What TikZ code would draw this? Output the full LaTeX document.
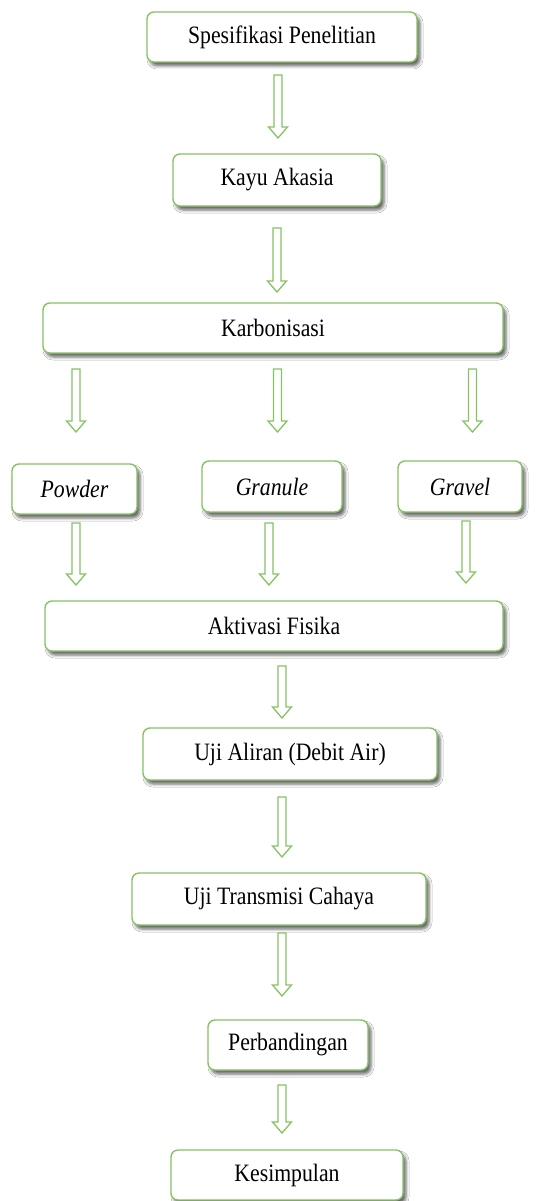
\documentclass[tikz,border=0pt]{standalone}
\usepackage{fontspec}
\setmainfont{Liberation Serif}[FakeStretch=0.87]
\usetikzlibrary{shadows.blur,calc}
\definecolor{boxgreen}{RGB}{135,195,100}
\tikzset{
  flowbox/.style={draw=boxgreen, line width=1.4pt, rounded corners=7pt, fill=white,
    inner sep=0pt, font=\fontsize{25}{28}\selectfont,
    blur shadow={shadow xshift=3pt, shadow yshift=-4pt, shadow blur radius=3pt, shadow opacity=60}},
  blockarrow/.style={draw=boxgreen, line width=1.3pt, fill=white, line join=miter}
}
\newcommand{\barrow}[2]{%
  \draw[blockarrow] let \p1=(#1), \p2=(#2) in
    (\x1-4pt,\y1) -- (\x1+4pt,\y1) -- (\x1+4pt,\y2+11pt) -- (\x1+9.5pt,\y2+11pt)
    -- (\x2,\y2) -- (\x1-9.5pt,\y2+11pt) -- (\x1-4pt,\y2+11pt) -- cycle;}
\begin{document}
\begin{tikzpicture}[x=1pt,y=-1pt]
\useasboundingbox (0,0) rectangle (538,1201);
\fill[white] (0,0) rectangle (538,1201);

\node[flowbox, minimum width=270pt, minimum height=50pt] (spek) at (282,37) {Spesifikasi Penelitian};
\node[flowbox, minimum width=208pt, minimum height=52pt] (kayu) at (277,180) {Kayu Akasia};
\node[flowbox, minimum width=460pt, minimum height=50pt] (karb) at (273,328) {Karbonisasi};
\node[flowbox, minimum width=125pt, minimum height=50pt] (powder) at (74.5,489) {\itshape Powder};
\node[flowbox, minimum width=140pt, minimum height=51pt] (granule) at (272,486.5) {\itshape Granule};
\node[flowbox, minimum width=124pt, minimum height=51pt] (gravel) at (460,486.5) {\itshape Gravel};
\node[flowbox, minimum width=458pt, minimum height=50pt] (aktiv) at (274,626) {Aktivasi Fisika};
\node[flowbox, minimum width=294pt, minimum height=52pt] (uji) at (290,754) {Uji Aliran (Debit Air)};
\node[flowbox, minimum width=294pt, minimum height=52pt] (trans) at (279,899) {Uji Transmisi Cahaya};
\node[flowbox, minimum width=160pt, minimum height=50pt] (perb) at (288,1045) {Perbandingan};
\node[flowbox, minimum width=232pt, minimum height=50pt] (kes) at (287,1175) {Kesimpulan};

% arrow end points
\coordinate (a1t) at (278,75);   \coordinate (a1h) at (278,138);
\coordinate (a2t) at (277,228);  \coordinate (a2h) at (277,292);
\coordinate (k1t) at (76,369);   \coordinate (k1h) at (76,432);
\coordinate (k2t) at (277.5,369);\coordinate (k2h) at (277.5,432);
\coordinate (k3t) at (472.5,369);\coordinate (k3h) at (472.5,432);
\coordinate (p1t) at (76,523);   \coordinate (p1h) at (76,585);
\coordinate (p2t) at (269,523);  \coordinate (p2h) at (269,585);
\coordinate (p3t) at (466,521);  \coordinate (p3h) at (466,583);
\coordinate (a3t) at (282,666);  \coordinate (a3h) at (282,718);
\coordinate (a4t) at (282,797);  \coordinate (a4h) at (282,857);
\coordinate (a5t) at (282,933);  \coordinate (a5h) at (282,996);
\coordinate (a6t) at (282,1085); \coordinate (a6h) at (282,1133);

\barrow{a1t}{a1h}
\barrow{a2t}{a2h}
\barrow{k1t}{k1h}
\barrow{k2t}{k2h}
\barrow{k3t}{k3h}
\barrow{p1t}{p1h}
\barrow{p2t}{p2h}
\barrow{p3t}{p3h}
\barrow{a3t}{a3h}
\barrow{a4t}{a4h}
\barrow{a5t}{a5h}
\barrow{a6t}{a6h}
\end{tikzpicture}
\end{document}
